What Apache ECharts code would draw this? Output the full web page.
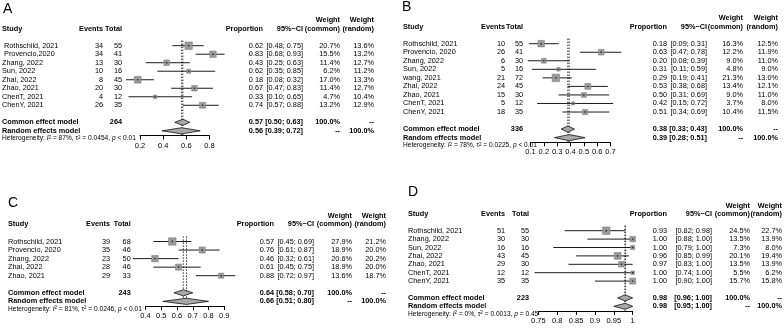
<!DOCTYPE html>
<html><head><meta charset="utf-8">
<script src="https://cdn.jsdelivr.net/npm/echarts/dist/echarts.min.js"></script>
<style>html,body{margin:0;padding:0;background:#fff}#c{width:784px;height:329px}</style>
</head><body><div id="c"></div>
<script>
// ---------- Panel A ----------
const studiesA = [' Rothschild, 2021', ' Provencio,2020', 'Zhang, 2022', 'Sun, 2022', 'Zhai, 2022', 'Zhao, 2021', 'ChenT, 2021', 'ChenY, 2021'];
const eventsA = [34, 34, 13, 10, 8, 20, 4, 26];
const totalsA = [55, 41, 30, 16, 45, 30, 12, 35];
const propA = [0.62, 0.83, 0.43, 0.62, 0.18, 0.67, 0.33, 0.74];
const lowerA = [0.48, 0.68, 0.25, 0.35, 0.08, 0.47, 0.10, 0.57];
const upperA = [0.75, 0.93, 0.63, 0.85, 0.32, 0.83, 0.65, 0.88];
const wComA = [20.7, 15.5, 11.4, 6.2, 17.0, 11.4, 4.7, 13.2];
const wRanA = [13.6, 13.2, 12.7, 11.2, 13.3, 12.7, 10.4, 12.9];
const commonA = [0.57, 0.50, 0.63];
const randomA = [0.56, 0.39, 0.72];
const totalSumA = 264;
const hetA = ['87%', '0.0454', '< 0.01'];
const ticksA = [0.2, 0.4, 0.6, 0.8];

// ---------- Panel B ----------
const studiesB = ['Rothschild, 2021', 'Provencio, 2020', 'Zhang, 2022', 'Sun, 2022', 'wang, 2021', 'Zhai, 2022', 'Zhao, 2021', 'ChenT, 2021', 'ChenY, 2021'];
const eventsB = [10, 26, 6, 5, 21, 24, 15, 5, 18];
const totalsB = [55, 41, 30, 16, 72, 45, 30, 12, 35];
const propB = [0.18, 0.63, 0.20, 0.31, 0.29, 0.53, 0.50, 0.42, 0.51];
const lowerB = [0.09, 0.47, 0.08, 0.11, 0.19, 0.38, 0.31, 0.15, 0.34];
const upperB = [0.31, 0.78, 0.39, 0.59, 0.41, 0.68, 0.69, 0.72, 0.69];
const wComB = [16.3, 12.2, 9.0, 4.8, 21.3, 13.4, 9.0, 3.7, 10.4];
const wRanB = [12.5, 11.9, 11.0, 9.0, 13.0, 12.1, 11.0, 8.0, 11.5];
const commonB = [0.38, 0.33, 0.43];
const randomB = [0.39, 0.28, 0.51];
const totalSumB = 336;
const hetB = ['78%', '0.0225', '< 0.01'];
const ticksB = [0.1, 0.2, 0.3, 0.4, 0.5, 0.6, 0.7];

// ---------- Panel C ----------
const studiesC = ['Rothschild, 2021', 'Provencio, 2020', 'Zhang, 2022', 'Zhai, 2022', 'Zhao, 2021'];
const eventsC = [39, 35, 23, 28, 29];
const totalsC = [68, 46, 50, 46, 33];
const propC = [0.57, 0.76, 0.46, 0.61, 0.88];
const lowerC = [0.45, 0.61, 0.32, 0.45, 0.72];
const upperC = [0.69, 0.87, 0.61, 0.75, 0.97];
const wComC = [27.9, 18.9, 20.6, 18.9, 13.6];
const wRanC = [21.2, 20.0, 20.2, 20.0, 18.7];
const commonC = [0.64, 0.58, 0.70];
const randomC = [0.66, 0.51, 0.80];
const totalSumC = 243;
const hetC = ['81%', '0.0246', '< 0.01'];
const ticksC = [0.4, 0.5, 0.6, 0.7, 0.8, 0.9];

// ---------- Panel D ----------
const studiesD = ['Rothschild, 2021', 'Zhang, 2022', 'Sun, 2022', 'Zhai, 2022', 'Zhao, 2021', 'ChenT, 2021', 'ChenY, 2021'];
const eventsD = [51, 30, 16, 43, 29, 12, 35];
const totalsD = [55, 30, 16, 45, 30, 12, 35];
const propD = [0.93, 1.00, 1.00, 0.96, 0.97, 1.00, 1.00];
const lowerD = [0.82, 0.88, 0.79, 0.85, 0.83, 0.74, 0.90];
const upperD = [0.98, 1.00, 1.00, 0.99, 1.00, 1.00, 1.00];
const wComD = [24.5, 13.5, 7.3, 20.1, 13.5, 5.5, 15.7];
const wRanD = [22.7, 13.9, 8.0, 19.4, 13.9, 6.2, 15.8];
const commonD = [0.98, 0.96, 1.00];
const randomD = [0.98, 0.95, 1.00];
const totalSumD = 223;
const hetD = ['0%', '0.0013', '= 0.45'];
const ticksD = [0.75, 0.8, 0.85, 0.9, 0.95, 1];

const panels = [
  {letter:'A', studies:studiesA, events:eventsA, totals:totalsA, prop:propA, lo:lowerA, hi:upperA, wc:wComA, wr:wRanA, common:commonA, random:randomA, sum:totalSumA, het:hetA, ticks:ticksA},
  {letter:'B', studies:studiesB, events:eventsB, totals:totalsB, prop:propB, lo:lowerB, hi:upperB, wc:wComB, wr:wRanB, common:commonB, random:randomB, sum:totalSumB, het:hetB, ticks:ticksB},
  {letter:'C', studies:studiesC, events:eventsC, totals:totalsC, prop:propC, lo:lowerC, hi:upperC, wc:wComC, wr:wRanC, common:commonC, random:randomC, sum:totalSumC, het:hetC, ticks:ticksC},
  {letter:'D', studies:studiesD, events:eventsD, totals:totalsD, prop:propD, lo:lowerD, hi:upperD, wc:wComD, wr:wRanD, common:commonD, random:randomD, sum:totalSumD, het:hetD, ticks:ticksD}
];

// ---------- layout (pixels) ----------
const layouts = [
  {left:140, width:69.5, row0:45.7, dy:8.51, cols:{study:2, events:103, total:122, prop:263, ci:303, wc:340, wr:374}, letterPos:[3,10]},
  {left:530.5, width:80, row0:43.7, dy:8.54, cols:{study:403, events:505, total:523, prop:667, ci:707, wc:743, wr:778}, letterPos:[402,8]},
  {left:145.5, width:78.8, row0:241.5, dy:8.55, cols:{study:8, events:110, total:130.7, prop:274, ci:314, wc:352, wr:386}, letterPos:[8,203.5]},
  {left:538.3, width:94.4, row0:230.7, dy:8.4, cols:{study:408, events:505, total:529, prop:667, ci:712, wc:750, wr:782}, letterPos:[408,192.5]}
];

const FONT = '"Liberation Sans", Arial, Helvetica, sans-serif';
const FS = 7.3;
const YMIN = -3.5;
const f2 = v => v.toFixed(2);
const ci = (l, h) => '[' + f2(l) + '; ' + f2(h) + ']';
const pct = v => v.toFixed(1) + '%';

function txt(x, y, s, align, bold, size, rich) {
  const st = {text: s, fill: '#000', fontFamily: FONT, fontSize: size || FS, fontWeight: bold ? 'bold' : 'normal',
    align: align, verticalAlign: 'middle', textAlign: align, textVerticalAlign: 'middle'};
  if (rich) st.rich = rich;
  return {type: 'text', x: x, y: y, style: st};
}

const grids = [], xAxes = [], yAxes = [], series = [], graphics = [];

panels.forEach((P, k) => {
  const L = layouts[k];
  const n = P.studies.length;
  const rowCommon = n + 1, rowRandom = n + 2, rowHet = n + 3, axisRow = n + 2.55;
  grids.push({left: L.left, width: L.width, top: L.row0 + YMIN * L.dy, height: (axisRow - YMIN) * L.dy, containLabel: false});
  xAxes.push({gridIndex: k, type: 'value', min: P.ticks[0], max: P.ticks[P.ticks.length - 1],
    interval: +(P.ticks[1] - P.ticks[0]).toFixed(4),
    axisLine: {show: true, onZero: false, lineStyle: {color: '#000', width: 1}},
    axisTick: {show: true, length: 4, lineStyle: {color: '#000', width: 1}},
    axisLabel: {color: '#000', fontSize: 7.5, fontFamily: FONT, margin: 6, hideOverlap: false, showMinLabel: true, showMaxLabel: true,
      formatter: v => String(+(+v).toFixed(2))},
    splitLine: {show: false}});
  yAxes.push({gridIndex: k, type: 'value', inverse: true, min: YMIN, max: axisRow, show: false});

  const wmax = Math.max.apply(null, P.wc);
  const fdata = P.studies.map((s, i) => [P.prop[i], i, P.lo[i], P.hi[i], P.wc[i], 0]);
  fdata.push([P.common[0], rowCommon, P.common[1], P.common[2], 0, 1]);
  fdata.push([P.random[0], rowRandom, P.random[1], P.random[2], 0, 2]);

  series.push({type: 'custom', coordinateSystem: 'cartesian2d', xAxisIndex: k, yAxisIndex: k, clip: false, silent: true, z: 1,
    data: [[P.common[0], -0.5], [P.random[0], -0.5]],
    renderItem: (params, api) => {
      const a = api.coord([api.value(0), -0.6]);
      const b = api.coord([api.value(0), rowRandom + 0.5]);
      return {type: 'line', shape: {x1: a[0], y1: a[1], x2: b[0], y2: b[1]}, style: {stroke: '#000', lineWidth: 0.8, lineDash: [1.5, 1.5]}};
    }});

  series.push({type: 'custom', coordinateSystem: 'cartesian2d', xAxisIndex: k, yAxisIndex: k, clip: false, silent: true, z: 2,
    data: fdata,
    renderItem: (params, api) => {
      const row = api.value(1), t = api.value(5);
      const pE = api.coord([api.value(0), row]);
      const pL = api.coord([api.value(2), row]);
      const pH = api.coord([api.value(3), row]);
      const rowPx = api.coord([api.value(0), row + 1])[1] - pE[1];
      if (t === 0) {
        const side = 7.5 * Math.sqrt(api.value(4) / wmax);
        return {type: 'group', children: [
          {type: 'line', shape: {x1: pL[0], y1: pE[1], x2: pH[0], y2: pE[1]}, style: {stroke: '#000', lineWidth: 0.9}},
          {type: 'rect', shape: {x: pE[0] - side / 2, y: pE[1] - side / 2, width: side, height: side}, style: {fill: '#9a9a9a', stroke: '#7a7a7a', lineWidth: 0.5}},
          {type: 'rect', shape: {x: pE[0] - 0.7, y: pE[1] - 0.7, width: 1.4, height: 1.4}, style: {fill: '#222'}}
        ]};
      }
      const h = rowPx * 0.36;
      return {type: 'polygon', shape: {points: [[pL[0], pE[1]], [pE[0], pE[1] - h], [pH[0], pE[1]], [pE[0], pE[1] + h]]},
        style: {fill: '#a8a8a8', stroke: '#111', lineWidth: 0.8}};
    }});

  const C = L.cols;
  const rows = [];
  rows.push({row: -3, cells: [{x: C.wc, t: 'Weight', a: 'right', b: true}, {x: C.wr, t: 'Weight', a: 'right', b: true}]});
  rows.push({row: -2, cells: [
    {x: C.study, t: 'Study', a: 'left', b: true}, {x: C.events, t: 'Events', a: 'right', b: true}, {x: C.total, t: 'Total', a: 'right', b: true},
    {x: C.prop, t: 'Proportion', a: 'right', b: true}, {x: C.ci, t: '95%\u2212CI', a: 'right', b: true},
    {x: C.wc, t: '(common)', a: 'right', b: true}, {x: C.wr, t: '(random)', a: 'right', b: true}]});
  P.studies.forEach((s, i) => rows.push({row: i, cells: [
    {x: C.study, t: s, a: 'left'}, {x: C.events, t: String(P.events[i]), a: 'right'}, {x: C.total, t: String(P.totals[i]), a: 'right'},
    {x: C.prop, t: f2(P.prop[i]), a: 'right'}, {x: C.ci, t: ci(P.lo[i], P.hi[i]), a: 'right'},
    {x: C.wc, t: pct(P.wc[i]), a: 'right'}, {x: C.wr, t: pct(P.wr[i]), a: 'right'}]}));
  rows.push({row: rowCommon, cells: [
    {x: C.study, t: 'Common effect model', a: 'left', b: true}, {x: C.total, t: String(P.sum), a: 'right', b: true},
    {x: C.prop, t: f2(P.common[0]), a: 'right', b: true}, {x: C.ci, t: ci(P.common[1], P.common[2]), a: 'right', b: true},
    {x: C.wc, t: '100.0%', a: 'right', b: true}, {x: C.wr, t: '--', a: 'right', b: true}]});
  rows.push({row: rowRandom, cells: [
    {x: C.study, t: 'Random effects model', a: 'left', b: true},
    {x: C.prop, t: f2(P.random[0]), a: 'right', b: true}, {x: C.ci, t: ci(P.random[1], P.random[2]), a: 'right', b: true},
    {x: C.wc, t: '--', a: 'right', b: true}, {x: C.wr, t: '100.0%', a: 'right', b: true}]});
  rows.push({row: rowHet - 0.1, cells: [
    {x: C.study, a: 'left', size: 6.6,
     t: 'Heterogeneity: {i|I}{s|2} = ' + P.het[0] + ', {n|\u03c4}{s|2} = ' + P.het[1] + ', {i|p} ' + P.het[2],
     rich: {i: {fontStyle: 'italic', fontSize: 6.6, fontFamily: FONT}, n: {fontSize: 6.6, fontFamily: FONT}, s: {fontSize: 4.5, verticalAlign: 'top', fontFamily: FONT}}}]});

  series.push({type: 'custom', coordinateSystem: 'cartesian2d', xAxisIndex: k, yAxisIndex: k, clip: false, silent: true, z: 3,
    data: rows.map(r => [P.ticks[0], r.row]),
    renderItem: (params, api) => {
      const r = rows[params.dataIndex];
      const y = api.coord([P.ticks[0], r.row])[1];
      return {type: 'group', children: r.cells.map(c => txt(c.x, y, c.t, c.a, c.b, c.size, c.rich))};
    }});

  graphics.push({type: 'text', left: L.letterPos[0], top: L.letterPos[1] - 7.5,
    style: {text: P.letter, fill: '#000', font: '14px ' + FONT}});
});

const chart = echarts.init(document.getElementById('c'), null, {renderer: 'canvas'});
chart.setOption({
  animation: false,
  backgroundColor: '#fff',
  grid: grids, xAxis: xAxes, yAxis: yAxes, series: series, graphic: graphics
});
</script></body></html>
